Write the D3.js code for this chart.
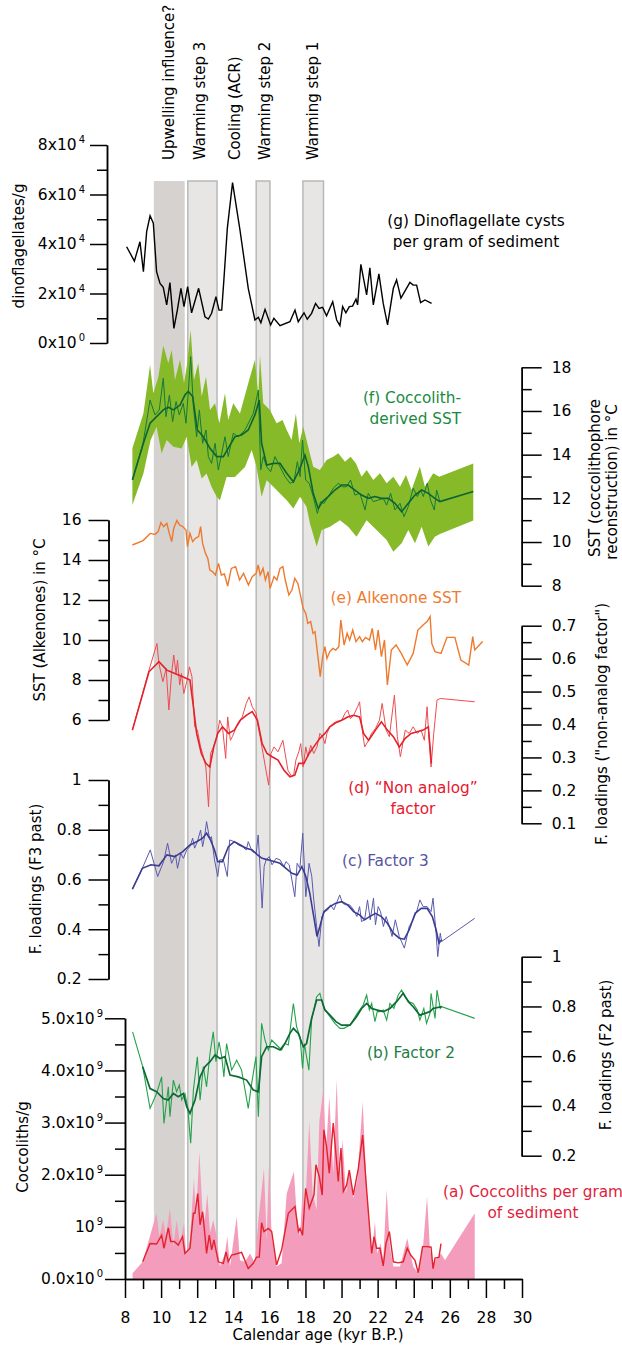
<!DOCTYPE html>
<html>
<head>
<meta charset="utf-8">
<script src="https://cdn.jsdelivr.net/npm/d3@7"></script>
<style>
  body { margin: 0; background: #fff; }
  svg text { font-family: "DejaVu Sans", sans-serif; }
</style>
</head>
<body>
<svg id="chart" width="622" height="1346"></svg>
<script>
// ---- data (age in kyr B.P., value) ----
const bandStart = [9.6, 11.48, 15.27, 17.86];
const bandEnd = [11.31, 13.1, 16.03, 19.0];
const bandDark = [true, false, false, false];

const eventLabels = ["Upwelling influence?", "Warming step 3", "Cooling (ACR)", "Warming step 2", "Warming step 1"];
const eventAges = [10.74, 12.43, 14.37, 16.03, 18.69];

const dinoCysts = [[8.09,38900],[8.52,33100],[8.83,40900],[9.02,28800],[9.20,45000],[9.39,51400],[9.57,48400],[9.75,28800],[9.94,24100],[10.12,22500],[10.31,15400],[10.49,24400],[10.71,5900],[10.90,13300],[11.10,22100],[11.27,14700],[11.47,22800],[11.69,12200],[12.08,22100],[12.43,10600],[12.62,9700],[12.80,12000],[13.04,18700],[13.21,13300],[13.36,13300],[13.48,25500],[13.67,46300],[13.96,64800],[14.37,45700],[14.83,22100],[15.20,9300],[15.39,10400],[15.53,8200],[15.76,13600],[16.07,7300],[16.25,10000],[16.59,7000],[17.14,8600],[17.42,13300],[17.60,8600],[17.92,12200],[18.10,9600],[18.34,12000],[18.56,16000],[18.75,14000],[18.95,14400],[19.17,11000],[19.51,16700],[19.73,9300],[19.91,7000],[20.06,14700],[20.24,12200],[20.43,14700],[20.61,14900],[20.80,17700],[20.89,15400],[21.07,31800],[21.39,19400],[21.57,30400],[21.76,15400],[22.07,27900],[22.31,16000],[22.55,7300],[22.87,22100],[23.05,25500],[23.29,18100],[23.79,24500],[23.97,23400],[24.16,23400],[24.38,16300],[24.62,17400],[24.99,16000]];

const coccSSTUpper = [[8.41,14.29],[9.02,15.89],[9.39,18.1],[9.57,16.81],[9.85,17.57],[10.12,19.0],[10.40,18.18],[10.59,18.79],[10.77,17.42],[11.05,18.34],[11.27,17.27],[11.45,18.18],[11.64,19.71],[11.82,17.42],[12.06,18.18],[12.25,16.66],[12.49,17.57],[12.71,16.05],[12.99,16.35],[13.23,15.44],[13.54,16.81],[13.72,15.59],[14.00,16.35],[14.37,15.89],[14.83,17.27],[15.20,18.34],[15.39,16.66],[15.48,18.56],[15.66,16.35],[16.03,16.05],[16.40,15.44],[16.73,15.59],[16.96,15.13],[17.23,14.67],[17.47,15.89],[17.66,14.52],[17.88,15.28],[18.06,14.67],[18.43,13.45],[18.80,13.30],[19.17,13.76],[19.54,13.91],[19.82,14.06],[20.19,13.68],[20.50,13.91],[20.80,13.60],[21.11,12.99],[21.39,13.30],[21.76,12.84],[22.13,13.15],[22.50,12.69],[22.87,12.99],[23.24,12.53],[23.57,13.07],[23.88,12.38],[24.34,13.45],[24.62,12.53],[25.08,13.15],[25.41,12.99],[27.30,13.60]];
const coccSSTLower = [[8.41,11.69],[9.02,13.14],[9.42,14.67],[9.75,15.28],[10.03,14.05],[10.31,14.67],[10.68,14.36],[11.14,14.28],[11.42,14.82],[11.69,13.44],[11.97,13.75],[12.25,12.91],[12.52,13.14],[12.80,12.52],[13.08,12.07],[13.26,11.91],[13.63,12.98],[14.09,12.98],[14.65,13.44],[15.02,14.21],[15.29,13.44],[15.57,12.07],[15.85,12.83],[16.22,12.53],[16.59,12.22],[16.96,11.91],[17.33,11.53],[17.70,12.07],[18.06,11.61],[18.25,10.85],[18.62,9.79],[18.90,10.55],[19.36,10.70],[19.91,11.00],[20.37,10.70],[20.83,10.24],[21.39,11.00],[21.94,10.55],[22.50,10.09],[22.87,9.56],[23.33,9.94],[23.70,10.55],[24.07,9.94],[24.44,10.70],[24.81,9.79],[25.17,10.24],[25.45,10.37],[27.30,10.98]];
const coccSSTThin = [[8.41,12.84],[9.00,14.52],[9.39,16.50],[9.66,15.82],[9.90,16.05],[10.12,17.50],[10.27,15.74],[10.46,16.73],[10.64,15.51],[10.83,16.43],[11.01,15.82],[11.23,16.35],[11.38,15.44],[11.51,16.89],[11.64,18.49],[11.79,16.20],[11.97,14.82],[12.12,16.05],[12.30,14.52],[12.49,15.13],[12.62,13.91],[12.80,13.60],[12.99,14.52],[13.17,13.30],[13.36,14.06],[13.54,14.82],[13.72,13.91],[14.00,14.98],[14.28,14.82],[14.65,15.13],[15.11,15.89],[15.39,16.96],[15.52,13.30],[15.66,13.91],[15.85,13.45],[16.07,13.22],[16.31,13.91],[16.59,13.45],[16.87,12.99],[17.14,12.69],[17.36,12.76],[17.55,13.68],[17.70,12.99],[17.84,14.67],[18.01,12.84],[18.21,12.69],[18.43,12.08],[18.66,11.31],[18.84,11.85],[19.03,11.77],[19.26,12.08],[19.54,12.46],[19.82,12.69],[20.06,12.53],[20.28,12.53],[20.50,12.84],[20.74,12.15],[21.02,12.23],[21.30,11.47],[21.48,12.23],[21.76,11.85],[22.04,11.92],[22.31,12.00],[22.50,11.69],[22.72,12.23],[22.96,11.47],[23.24,11.77],[23.46,11.16],[23.70,11.62],[23.97,12.46],[24.20,12.08],[24.38,12.38],[24.53,12.08],[24.75,12.69],[24.93,11.92],[25.14,11.47],[25.27,12.38],[25.45,11.85]];
const coccSSTSmooth = [[8.41,12.84],[9.02,14.52],[9.39,15.44],[9.75,15.74],[10.12,16.05],[10.40,16.17],[10.68,16.05],[11.05,16.27],[11.32,16.73],[11.51,16.89],[11.75,16.66],[12.01,15.13],[12.34,14.82],[12.71,14.29],[13.08,13.91],[13.45,13.91],[13.82,14.44],[14.09,14.82],[14.46,14.90],[14.83,15.13],[15.20,15.82],[15.44,16.50],[15.57,14.52],[15.85,13.53],[16.22,13.60],[16.59,13.60],[16.96,13.15],[17.33,12.76],[17.66,13.30],[17.97,13.98],[18.16,13.45],[18.43,12.23],[18.71,11.54],[18.95,11.85],[19.26,12.08],[19.63,12.38],[20.00,12.61],[20.37,12.61],[20.74,12.38],[21.11,12.15],[21.48,12.00],[21.85,12.08],[22.22,12.00],[22.59,12.00],[22.96,11.77],[23.33,11.39],[23.70,11.77],[24.07,12.15],[24.44,12.38],[24.81,12.23],[25.17,12.00],[25.45,11.85],[27.30,12.31]];

const alkenoneSST = [[8.41,14.75],[9.00,14.97],[9.40,15.33],[9.66,15.28],[9.84,15.42],[9.99,15.87],[10.14,15.67],[10.32,15.83],[10.43,15.42],[10.59,14.92],[10.70,15.58],[10.87,15.97],[11.03,15.75],[11.20,15.67],[11.38,15.50],[11.46,14.67],[11.60,15.33],[11.75,14.92],[11.90,15.08],[12.08,15.17],[12.19,15.67],[12.30,14.83],[12.46,14.33],[12.59,14.08],[12.70,13.50],[12.85,13.42],[13.01,13.25],[13.18,13.83],[13.34,13.25],[13.51,13.30],[13.69,12.70],[13.89,13.58],[14.13,13.67],[14.35,13.00],[14.57,13.33],[14.84,12.75],[15.05,13.17],[15.27,13.33],[15.38,13.75],[15.49,13.25],[15.65,13.58],[15.78,13.00],[15.93,13.42],[16.04,12.58],[16.26,13.17],[16.42,13.00],[16.59,13.58],[16.75,13.67],[16.88,13.00],[17.08,12.25],[17.25,12.50],[17.41,13.08],[17.58,12.83],[17.74,12.17],[17.87,11.58],[18.02,11.33],[18.13,10.83],[18.29,10.92],[18.42,10.33],[18.53,10.42],[18.69,9.17],[18.82,8.17],[18.95,9.17],[19.08,9.67],[19.19,9.08],[19.35,9.42],[19.52,9.58],[19.68,9.50],[19.85,9.67],[19.96,11.00],[20.14,9.75],[20.31,10.33],[20.45,10.00],[20.62,10.50],[20.80,9.92],[21.00,10.17],[21.15,9.92],[21.33,10.13],[21.55,10.00],[21.70,10.58],[21.88,9.50],[22.03,10.50],[22.21,9.17],[22.38,10.00],[22.54,7.75],[22.76,9.50],[23.02,9.75],[23.31,9.33],[23.64,8.75],[23.97,9.33],[24.23,10.50],[24.52,10.75],[24.74,10.92],[24.91,11.17],[25.00,9.83],[25.18,9.42],[25.51,9.33],[25.84,10.13],[26.28,10.13],[26.61,9.00],[27.05,8.75],[27.27,10.17],[27.38,9.50],[27.82,9.92]];

const nonAnalogThin = [[8.41,0.383],[9.33,0.565],[9.77,0.646],[9.88,0.585],[10.10,0.530],[10.28,0.570],[10.43,0.444],[10.58,0.555],[10.70,0.611],[10.83,0.555],[10.91,0.596],[11.03,0.520],[11.13,0.555],[11.26,0.494],[11.42,0.530],[11.57,0.575],[11.71,0.545],[11.86,0.393],[12.01,0.383],[12.19,0.332],[12.30,0.312],[12.48,0.271],[12.63,0.150],[12.74,0.312],[12.90,0.332],[13.07,0.358],[13.25,0.413],[13.40,0.393],[13.58,0.297],[13.69,0.423],[13.84,0.352],[13.95,0.363],[14.24,0.403],[14.50,0.423],[14.72,0.464],[14.88,0.484],[15.05,0.454],[15.27,0.434],[15.38,0.393],[15.49,0.363],[15.65,0.312],[15.78,0.271],[15.96,0.216],[16.09,0.312],[16.26,0.332],[16.48,0.317],[16.75,0.352],[17.03,0.261],[17.25,0.241],[17.36,0.251],[17.47,0.292],[17.63,0.317],[17.74,0.342],[17.87,0.271],[18.02,0.332],[18.13,0.302],[18.29,0.337],[18.46,0.312],[18.64,0.332],[18.80,0.373],[18.95,0.363],[19.08,0.342],[19.19,0.373],[19.35,0.393],[19.52,0.403],[19.68,0.408],[19.83,0.411],[20.01,0.413],[20.19,0.434],[20.34,0.444],[20.49,0.418],[20.67,0.428],[20.89,0.454],[21.00,0.469],[21.15,0.383],[21.28,0.332],[21.50,0.352],[21.66,0.373],[21.88,0.388],[22.10,0.413],[22.25,0.464],[22.47,0.383],[22.65,0.363],[22.93,0.489],[23.09,0.363],[23.26,0.302],[23.53,0.383],[23.75,0.373],[23.97,0.393],[24.19,0.373],[24.41,0.383],[24.59,0.352],[24.74,0.454],[24.85,0.352],[24.96,0.271],[25.11,0.373],[25.29,0.474],[25.47,0.479],[27.38,0.469]];
const nonAnalogSmooth = [[8.41,0.383],[9.33,0.560],[9.88,0.591],[10.32,0.565],[10.76,0.555],[11.20,0.545],[11.60,0.535],[11.79,0.454],[11.97,0.373],[12.23,0.312],[12.48,0.282],[12.70,0.271],[12.92,0.332],[13.14,0.373],[13.40,0.393],[13.73,0.373],[14.06,0.383],[14.39,0.413],[14.72,0.428],[15.05,0.439],[15.34,0.413],[15.60,0.342],[15.87,0.312],[16.15,0.302],[16.48,0.292],[16.81,0.261],[17.14,0.241],[17.41,0.246],[17.63,0.282],[17.92,0.282],[18.20,0.312],[18.46,0.332],[18.80,0.358],[19.08,0.373],[19.35,0.393],[19.68,0.405],[20.01,0.413],[20.34,0.423],[20.67,0.428],[21.00,0.423],[21.22,0.373],[21.50,0.352],[21.88,0.383],[22.21,0.408],[22.54,0.383],[22.87,0.363],[23.20,0.332],[23.53,0.358],[23.86,0.373],[24.19,0.378],[24.52,0.383],[24.81,0.393],[24.98,0.282]];

const factor3Thin = [[8.41,0.561],[8.96,0.645],[9.40,0.719],[9.81,0.612],[10.14,0.672],[10.36,0.746],[10.58,0.665],[10.80,0.699],[10.91,0.645],[11.09,0.705],[11.24,0.685],[11.42,0.719],[11.60,0.732],[11.75,0.766],[11.86,0.726],[12.01,0.752],[12.19,0.799],[12.30,0.732],[12.41,0.772],[12.52,0.833],[12.68,0.766],[12.79,0.772],[12.96,0.679],[13.14,0.612],[13.25,0.679],[13.45,0.679],[13.67,0.612],[13.80,0.759],[14.06,0.752],[14.28,0.739],[14.50,0.732],[14.72,0.719],[14.83,0.752],[15.05,0.712],[15.27,0.705],[15.38,0.779],[15.49,0.639],[15.60,0.485],[15.71,0.652],[15.82,0.679],[15.99,0.692],[16.15,0.659],[16.37,0.685],[16.59,0.679],[16.81,0.652],[16.92,0.672],[17.10,0.659],[17.25,0.598],[17.41,0.531],[17.54,0.665],[17.69,0.645],[17.85,0.786],[18.02,0.531],[18.20,0.665],[18.35,0.612],[18.46,0.518],[18.62,0.411],[18.75,0.331],[18.91,0.451],[19.08,0.471],[19.24,0.478],[19.39,0.498],[19.57,0.478],[19.75,0.511],[19.90,0.538],[20.05,0.505],[20.23,0.498],[20.45,0.498],[20.67,0.478],[20.85,0.451],[21.00,0.491],[21.11,0.431],[21.28,0.438],[21.44,0.518],[21.59,0.438],[21.77,0.525],[21.88,0.418],[22.03,0.491],[22.16,0.471],[22.32,0.411],[22.47,0.451],[22.65,0.411],[22.80,0.371],[22.98,0.438],[23.20,0.371],[23.48,0.324],[23.75,0.411],[23.97,0.438],[24.19,0.478],[24.34,0.518],[24.52,0.491],[24.74,0.491],[24.96,0.471],[25.07,0.525],[25.24,0.384],[25.33,0.290],[25.47,0.384],[25.55,0.351],[27.38,0.444]];
const factor3Smooth = [[8.41,0.561],[8.96,0.645],[9.44,0.659],[9.88,0.655],[10.32,0.699],[10.76,0.692],[11.20,0.712],[11.60,0.739],[11.97,0.752],[12.30,0.766],[12.52,0.786],[12.74,0.759],[12.96,0.719],[13.14,0.672],[13.40,0.672],[13.73,0.732],[14.06,0.752],[14.39,0.739],[14.72,0.726],[15.05,0.719],[15.34,0.699],[15.60,0.685],[15.93,0.679],[16.26,0.672],[16.59,0.665],[16.92,0.645],[17.25,0.625],[17.54,0.618],[17.80,0.652],[18.02,0.612],[18.24,0.545],[18.46,0.451],[18.64,0.371],[18.80,0.411],[19.02,0.471],[19.35,0.491],[19.68,0.505],[20.01,0.511],[20.34,0.498],[20.67,0.471],[21.00,0.458],[21.28,0.438],[21.55,0.451],[21.88,0.464],[22.21,0.451],[22.54,0.424],[22.87,0.384],[23.20,0.364],[23.48,0.360],[23.75,0.398],[24.08,0.464],[24.41,0.484],[24.74,0.484],[25.03,0.451],[25.24,0.398],[25.40,0.344],[25.55,0.358]];

const factor2Thin = [[8.42,0.698],[8.98,0.558],[9.39,0.390],[9.75,0.450],[10.03,0.517],[10.16,0.330],[10.40,0.477],[10.49,0.357],[10.68,0.504],[10.86,0.457],[11.01,0.484],[11.14,0.424],[11.32,0.450],[11.47,0.397],[11.64,0.250],[11.79,0.464],[12.01,0.598],[12.16,0.423],[12.34,0.558],[12.52,0.477],[12.71,0.611],[12.89,0.698],[13.04,0.578],[13.21,0.658],[13.36,0.598],[13.48,0.517],[13.63,0.651],[13.91,0.544],[14.19,0.584],[14.46,0.544],[14.83,0.390],[15.02,0.491],[15.26,0.598],[15.39,0.357],[15.57,0.732],[15.76,0.665],[15.94,0.625],[16.13,0.665],[16.40,0.645],[16.68,0.625],[16.86,0.651],[17.05,0.645],[17.33,0.812],[17.51,0.718],[17.70,0.678],[17.84,0.551],[17.94,0.651],[18.06,0.598],[18.19,0.544],[18.34,0.745],[18.62,0.839],[18.80,0.853],[19.02,0.792],[19.36,0.759],[19.63,0.732],[19.91,0.712],[20.13,0.712],[20.47,0.725],[20.87,0.772],[21.20,0.806],[21.39,0.846],[21.54,0.786],[21.67,0.812],[21.85,0.739],[21.98,0.779],[22.13,0.779],[22.31,0.786],[22.50,0.745],[22.68,0.812],[22.90,0.792],[23.14,0.846],[23.33,0.866],[23.51,0.839],[23.75,0.819],[23.97,0.812],[24.20,0.786],[24.34,0.745],[24.56,0.792],[24.71,0.732],[24.90,0.772],[24.96,0.853],[25.18,0.752],[25.29,0.866],[25.47,0.792],[25.55,0.799],[27.38,0.752]];
const factor2Smooth = [[8.98,0.558],[9.39,0.470],[9.75,0.457],[10.12,0.430],[10.40,0.424],[10.68,0.450],[10.95,0.437],[11.23,0.450],[11.42,0.397],[11.60,0.370],[11.88,0.424],[12.16,0.517],[12.43,0.558],[12.71,0.578],[12.99,0.605],[13.26,0.591],[13.54,0.598],[13.82,0.524],[14.28,0.517],[14.74,0.504],[15.11,0.464],[15.39,0.457],[15.57,0.598],[15.85,0.638],[16.22,0.638],[16.59,0.625],[16.86,0.651],[17.14,0.692],[17.33,0.712],[17.60,0.692],[17.88,0.638],[18.06,0.651],[18.34,0.752],[18.62,0.826],[18.90,0.826],[19.08,0.786],[19.36,0.765],[19.69,0.739],[20.00,0.725],[20.47,0.725],[20.83,0.759],[21.11,0.792],[21.39,0.812],[21.67,0.792],[21.94,0.786],[22.31,0.779],[22.68,0.792],[23.05,0.819],[23.42,0.853],[23.70,0.819],[23.97,0.799],[24.34,0.765],[24.62,0.772],[24.90,0.779],[25.07,0.792],[25.55,0.799]];

// coccoliths per gram, in units of 10^9
const coccolithsFill = [[8.42,0.11],[8.98,0.33],[9.48,0.94],[9.75,1.26],[9.90,0.81],[10.12,1.13],[10.27,0.81],[10.49,1.36],[10.68,0.62],[10.86,1.13],[11.05,0.68],[11.27,1.07],[11.38,0.49],[11.60,0.75],[11.82,1.93],[11.93,1.13],[12.12,2.44],[12.30,1.26],[12.43,1.13],[12.56,1.64],[12.71,0.88],[12.89,1.13],[13.08,0.81],[13.26,0.24],[13.54,0.49],[13.67,0.81],[13.82,0.24],[14.19,1.20],[14.37,0.36],[14.65,0.33],[14.93,0.49],[15.20,0.30],[15.39,1.13],[15.70,2.12],[15.85,0.75],[15.98,2.19],[16.13,0.81],[16.40,0.24],[16.68,0.30],[16.96,1.64],[17.36,2.06],[17.51,1.26],[17.70,0.81],[17.84,1.71],[17.97,1.23],[18.21,3.02],[18.40,1.64],[18.62,1.32],[18.77,3.02],[18.99,3.63],[19.14,2.47],[19.32,3.50],[19.54,2.03],[19.73,3.82],[19.91,1.90],[20.06,2.67],[20.24,1.64],[20.43,2.09],[20.65,1.55],[20.87,1.90],[21.17,3.40],[21.39,1.77],[21.67,0.49],[21.85,1.10],[21.98,0.49],[22.16,0.68],[22.31,0.36],[22.50,1.71],[22.68,0.62],[22.87,0.24],[23.24,0.24],[23.64,0.78],[23.97,0.24],[24.25,0.11],[24.53,0.68],[24.74,1.58],[24.90,0.56],[25.07,0.30],[25.51,0.49],[25.73,0.36],[27.38,1.26]];
const coccolithsLine = [[8.98,0.33],[9.39,0.68],[9.75,0.67],[10.03,0.84],[10.16,0.59],[10.40,0.98],[10.53,0.72],[10.73,0.72],[10.95,0.65],[11.19,0.81],[11.32,0.49],[11.60,0.59],[11.79,1.26],[11.88,1.26],[12.03,1.64],[12.16,1.04],[12.30,1.29],[12.43,0.84],[12.52,0.49],[12.67,0.84],[12.80,0.56],[12.93,0.75],[13.17,0.33],[13.45,0.30],[13.60,0.52],[13.72,0.33],[13.91,0.46],[14.15,0.48],[14.46,0.51],[14.83,0.20],[15.11,0.30],[15.29,0.42],[15.44,0.42],[15.57,1.08],[15.70,0.91],[15.94,0.97],[16.13,0.91],[16.40,0.27],[16.68,0.56],[17.05,1.26],[17.42,1.39],[17.61,0.91],[17.70,0.97],[17.84,0.84],[18.01,1.74],[18.21,1.36],[18.47,1.61],[18.58,2.19],[18.77,1.96],[18.93,1.61],[19.02,2.86],[19.17,2.54],[19.32,2.03],[19.54,2.99],[19.82,1.87],[19.97,2.51],[20.10,1.68],[20.28,1.80],[20.43,2.09],[20.65,1.61],[20.93,2.12],[21.17,2.76],[21.39,1.71],[21.67,0.49],[21.80,0.81],[21.94,0.59],[22.13,0.59],[22.31,0.25],[22.46,0.68],[22.65,0.91],[22.87,0.33],[23.14,0.31],[23.42,0.33],[23.64,0.59],[23.83,0.46],[24.07,0.36],[24.25,0.12],[24.49,0.62],[24.75,0.62],[24.96,0.61],[25.07,0.20],[25.18,0.40],[25.40,0.42],[25.51,0.68]];

// ---- scales ----
const svg = d3.select("#chart");
const x = d3.scaleLinear().domain([8, 30]).range([125, 522]);
const yDino = d3.scaleLinear().domain([0, 80000]).range([343, 145]);
const yCoccSST = d3.scaleLinear().domain([8, 18]).range([585.7, 367.3]);
const yAlk = d3.scaleLinear().domain([6, 16]).range([720, 520]);
const yNonAnalog = d3.scaleLinear().domain([0.1, 0.7]).range([823.3, 625.7]);
const yF3 = d3.scaleLinear().domain([0.2, 1]).range([979, 780]);
const yF2 = d3.scaleLinear().domain([0.2, 1]).range([1155.7, 956.7]);
const yCocc = d3.scaleLinear().domain([0, 5]).range([1279, 1018.3]);

const lineOf = (ys) => d3.line().x(d => x(d[0])).y(d => ys(d[1]));

// ---- shaded event bands ----
const bands = bandStart.map((s, i) => ({ s: s, e: bandEnd[i], dark: bandDark[i] }));
svg.append("g").selectAll("rect")
  .data(bands)
  .join("rect")
  .attr("x", d => x(d.s))
  .attr("width", d => x(d.e) - x(d.s))
  .attr("y", 181)
  .attr("height", 1268 - 181)
  .attr("fill", d => d.dark ? "#d6d2cf" : "#e7e6e4")
  .attr("stroke", d => d.dark ? "none" : "#b8b8b8")
  .attr("stroke-width", 1.5);

svg.append("g").selectAll("text")
  .data(eventLabels)
  .join("text")
  .attr("transform", (d, i) => `translate(${x(eventAges[i])},160) rotate(-90)`)
  .attr("font-size", 15)
  .text(d => d);

// ---- (f) coccolith SST with envelope ----
const envelope = coccSSTUpper.concat(coccSSTLower.slice().reverse());
svg.append("path")
  .attr("d", lineOf(yCoccSST)(envelope) + "Z")
  .attr("fill", "#86ba28");
svg.append("path").datum(coccSSTThin)
  .attr("d", lineOf(yCoccSST)).attr("fill", "none")
  .attr("stroke", "#137a3c").attr("stroke-width", 1);
svg.append("path").datum(coccSSTSmooth)
  .attr("d", lineOf(yCoccSST)).attr("fill", "none")
  .attr("stroke", "#0b6434").attr("stroke-width", 1.6);

// ---- (g) dinoflagellates ----
svg.append("path").datum(dinoCysts)
  .attr("d", lineOf(yDino)).attr("fill", "none")
  .attr("stroke", "#000").attr("stroke-width", 1.4);

// ---- (e) alkenone SST ----
svg.append("path").datum(alkenoneSST)
  .attr("d", lineOf(yAlk)).attr("fill", "none")
  .attr("stroke", "#ee7a2e").attr("stroke-width", 1.4);

// ---- (d) non analog factor ----
svg.append("path").datum(nonAnalogThin)
  .attr("d", lineOf(yNonAnalog)).attr("fill", "none")
  .attr("stroke", "#ee4c50").attr("stroke-width", 1);
svg.append("path").datum(nonAnalogSmooth)
  .attr("d", lineOf(yNonAnalog)).attr("fill", "none")
  .attr("stroke", "#e3222a").attr("stroke-width", 1.6);

// ---- (c) factor 3 ----
svg.append("path").datum(factor3Thin)
  .attr("d", lineOf(yF3)).attr("fill", "none")
  .attr("stroke", "#5a5aae").attr("stroke-width", 1);
svg.append("path").datum(factor3Smooth)
  .attr("d", lineOf(yF3)).attr("fill", "none")
  .attr("stroke", "#3b3b92").attr("stroke-width", 1.6);

// ---- (b) factor 2 ----
svg.append("path").datum(factor2Thin)
  .attr("d", lineOf(yF2)).attr("fill", "none")
  .attr("stroke", "#22a34a").attr("stroke-width", 1.1);
svg.append("path").datum(factor2Smooth)
  .attr("d", lineOf(yF2)).attr("fill", "none")
  .attr("stroke", "#0d6a34").attr("stroke-width", 1.7);

// ---- (a) coccoliths per gram ----
svg.append("path").datum(coccolithsFill)
  .attr("d", d3.area().x(d => x(d[0])).y0(yCocc(0)).y1(d => yCocc(d[1])))
  .attr("fill", "#f39cbb");
svg.append("path").datum(coccolithsLine)
  .attr("d", lineOf(yCocc)).attr("fill", "none")
  .attr("stroke", "#e3222d").attr("stroke-width", 1.4);

// ---- axes ----
function drawAxis(gen, scale, tx, ty, major, minor, majorLen, minorLen, pad, fmt) {
  const g = svg.append("g").attr("transform", `translate(${tx},${ty})`);
  g.append("g").call(gen(scale).tickValues(minor).tickSize(minorLen).tickSizeOuter(0).tickFormat(""));
  const m = g.append("g").call(gen(scale).tickValues(major).tickSize(majorLen).tickSizeOuter(0).tickPadding(pad).tickFormat(fmt));
  g.selectAll("path, line").attr("stroke", "#000").attr("stroke-width", 1.5);
  g.selectAll("text").attr("font-size", 15.5).attr("fill", "#000");
  return m;
}
function superscript(m, exp) {
  m.selectAll(".tick text").append("tspan")
    .attr("dx", 2).attr("dy", -7).attr("font-size", 10)
    .text(d => exp(d));
}

const dinoAxis = drawAxis(d3.axisLeft, yDino, 107, 0, [0, 20000, 40000, 60000, 80000], [10000, 30000, 50000, 70000], 17, 10, 5, d => (d / 10000) + "x10");
superscript(dinoAxis, d => d === 0 ? "0" : "4");

drawAxis(d3.axisRight, yCoccSST, 521.7, 0, d3.range(8, 19, 2), d3.range(9, 18, 2), 20, 10, 10, d3.format("d"));
drawAxis(d3.axisLeft, yAlk, 108.5, 0, d3.range(6, 17, 2), d3.range(7, 16, 2), 20, 10, 7, d3.format("d"));
drawAxis(d3.axisRight, yNonAnalog, 521.7, 0, [0.1, 0.2, 0.3, 0.4, 0.5, 0.6, 0.7], [0.15, 0.25, 0.35, 0.45, 0.55, 0.65], 20, 10, 10, d3.format(".1f"));
drawAxis(d3.axisLeft, yF3, 108.5, 0, [0.2, 0.4, 0.6, 0.8, 1], [0.3, 0.5, 0.7, 0.9], 20, 10, 7, d => d === 1 ? "1" : d3.format(".1f")(d));
drawAxis(d3.axisRight, yF2, 521.7, 0, [0.2, 0.4, 0.6, 0.8, 1], [0.3, 0.5, 0.7, 0.9], 20, 10, 10, d => d === 1 ? "1" : d3.format(".1f")(d));

const coccAxis = drawAxis(d3.axisLeft, yCocc, 125, 0, [0, 1, 2, 3, 4, 5], [0.5, 1.5, 2.5, 3.5, 4.5], 20, 10, 2, d => d === 1 ? "10" : d3.format(".1f")(d) + "x10");
superscript(coccAxis, d => d === 0 ? "0" : "9");

drawAxis(d3.axisBottom, x, 0, 1279, d3.range(8, 31, 2), d3.range(9, 30, 2), 19, 10, 14, d3.format("d"));

// ---- axis titles ----
function vTitle(txt, bx, cy) {
  svg.append("text")
    .attr("transform", `translate(${bx},${cy}) rotate(-90)`)
    .attr("text-anchor", "middle")
    .attr("font-size", 15)
    .text(txt);
}
vTitle("dinoflagellates/g", 24, 246);
vTitle("SST (Alkenones) in °C", 45, 620);
vTitle("F. loadings (F3 past)", 41, 879);
vTitle("Coccoliths/g", 28, 1147);
vTitle("SST (coccolithophore", 600, 478);
vTitle("reconstruction) in °C", 617, 482);
vTitle("F. loadings (\"non-analog factor\")", 607, 724);
vTitle("F. loadings (F2 past)", 611, 1055);

svg.append("text")
  .attr("x", 318).attr("y", 1340)
  .attr("text-anchor", "middle").attr("font-size", 15)
  .text("Calendar age (kyr B.P.)");

// ---- series labels ----
function label(lines, xx, yy, anchor, color) {
  const t = svg.append("text")
    .attr("text-anchor", anchor)
    .attr("font-size", 15.3)
    .attr("fill", color);
  lines.forEach((s, i) => {
    t.append("tspan").attr("x", xx).attr("y", yy + i * 20.5).text(s);
  });
}
label(["(g) Dinoflagellate cysts", "per gram of sediment"], 476, 226, "middle", "#000");
label(["(f) Coccolith-", "derived SST"], 461, 403, "end", "#1a8a40");
label(["(e) Alkenone SST"], 461, 603, "end", "#ef7b2f");
label(["(d) \u201cNon analog\u201d", "factor"], 413, 793, "middle", "#e5182e");
label(["(c) Factor 3"], 342, 866, "start", "#55549f");
label(["(b) Factor 2"], 367, 1058, "start", "#1d7d45");
label(["(a) Coccoliths per gram", "of sediment"], 533, 1197, "middle", "#e11d3c");
</script>
</body>
</html>
